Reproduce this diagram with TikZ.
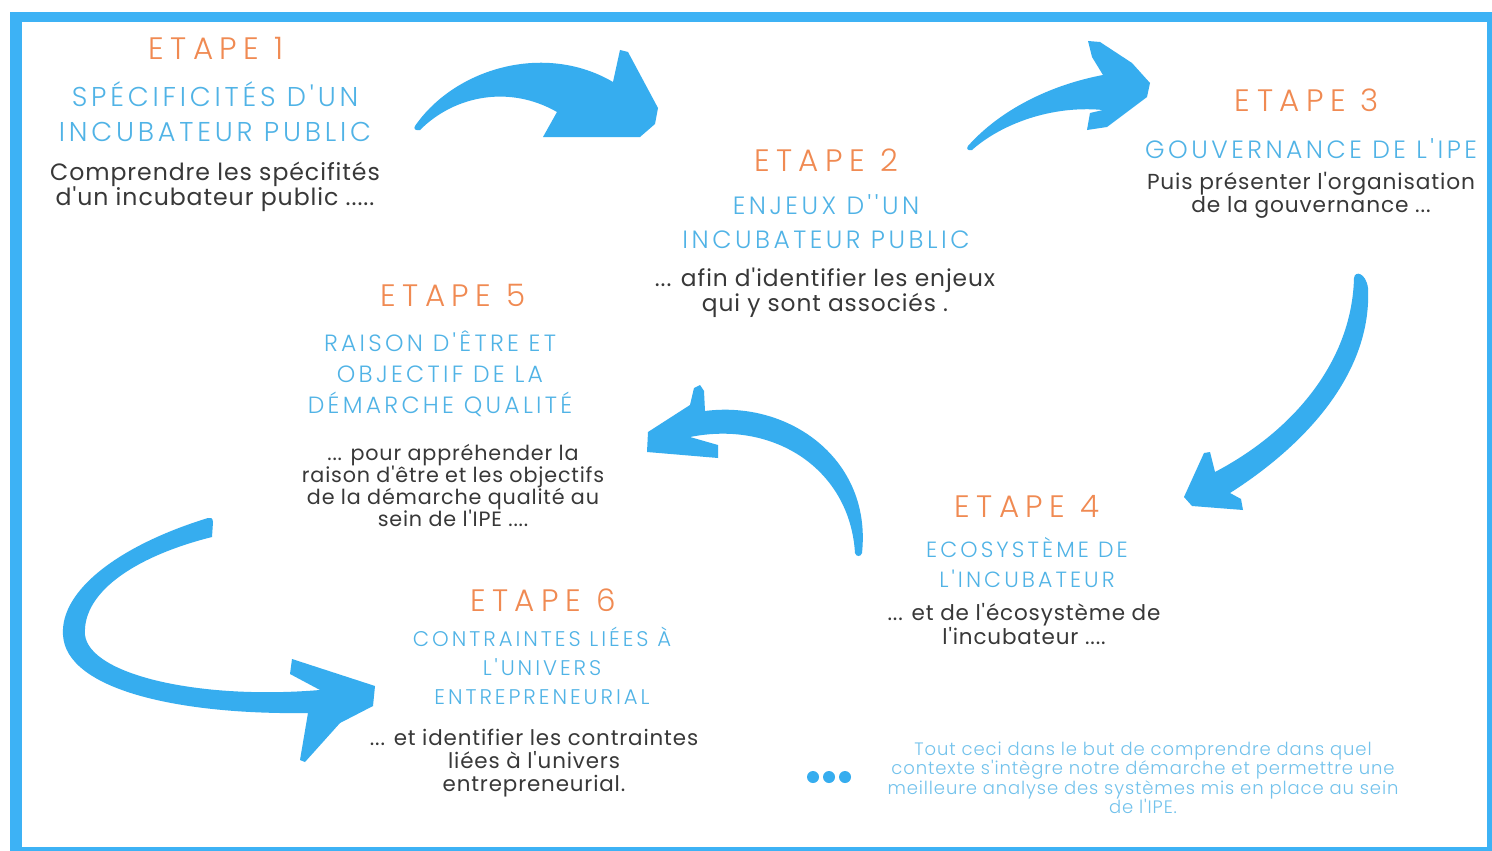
\documentclass[tikz,border=0pt]{standalone}
\usepackage{fontspec}
\setmainfont{Poppins}[Ligatures=TeXOff]
\newfontfamily\bodyf{Poppins}[LetterSpace=4]
\newfontfamily\handf{Poppins Light}[LetterSpace=5]
\newfontfamily\etapef{Poppins Light}[LetterSpace=21]
\newfontfamily\titlef{Poppins Light}[LetterSpace=14]
\definecolor{arrowblue}{HTML}{36ADEF}
\definecolor{frameblue}{HTML}{3DB2F5}
\definecolor{etapeorange}{HTML}{F08A52}
\definecolor{titleblue}{HTML}{50B3E6}
\definecolor{bodygray}{HTML}{383838}
\definecolor{handblue}{HTML}{72C2EC}
\tikzset{
  etape/.style={text=etapeorange, font=\etapef\fontsize{31}{31}\selectfont, inner sep=0pt},
  ttl/.style={text=titleblue, align=center, inner sep=0pt},
  body/.style={text=bodygray, align=center, inner sep=0pt},
  bigarrow/.style={fill=arrowblue, draw=none},
  dot/.style={circle, fill=arrowblue, minimum size=12pt, inner sep=0pt}
}
\begin{document}
\begin{tikzpicture}[x=1pt,y=-1pt]
\useasboundingbox (0,0) rectangle (1492,851);
% frame
\fill[frameblue] (10,12) rectangle (1492,851);
\fill[white] (22,22) rectangle (1487,847);

% arrow 1
\path[bigarrow] (415,126) .. controls (455,68) and (545,42) .. (613,82)
  -- (620,50) -- (628,52) -- (658,108) -- (655,124) -- (640,137) -- (543,137) -- (557,112)
  .. controls (510,85) and (455,95) .. (420,130) .. controls (416,131) and (413,129) .. (415,126) -- cycle;
% arrow 2
\path[bigarrow] (968,146) .. controls (1000,110) and (1050,85) .. (1103,75)
  -- (1092,57) -- (1088,41) -- (1100,42) -- (1132,63) -- (1150,83) -- (1147,97) -- (1107,127) -- (1087,130) -- (1090,113) -- (1103,110)
  .. controls (1050,105) and (1000,125) .. (972,150) .. controls (968,151) and (966,149) .. (968,146) -- cycle;
% arrow 3
\path[bigarrow] (1354,278) .. controls (1352,360) and (1295,430) .. (1215,472)
  -- (1210,452) -- (1204,453) -- (1184,497) -- (1192,506) -- (1243,510) -- (1241,499) -- (1230,493)
  .. controls (1310,442) and (1372,370) .. (1368,288) .. controls (1366,273) and (1355,270) .. (1354,278) -- cycle;
% arrow 4
\path[bigarrow] (862,553) .. controls (872,460) and (790,400) .. (705,411)
  -- (704,391) -- (700,385) -- (694,388) -- (690,405) -- (648,432) -- (647,452) -- (718,458) -- (718,445) -- (690,437)
  .. controls (775,420) and (850,470) .. (855,553) .. controls (856,557) and (861,557) .. (862,553) -- cycle;
% arrow 5
\path[bigarrow] (208,518) .. controls (120,545) and (60,590) .. (63,635)
  .. controls (66,690) and (180,715) .. (308,713)
  -- (300,760) -- (305,762) -- (340,723) -- (373,706) -- (375,686) -- (292,659) -- (290,674) -- (320,690)
  .. controls (200,700) and (90,675) .. (85,635) .. controls (82,590) and (140,555) .. (212,537)
  -- (213,522) .. controls (213,518) and (210,517) .. (208,518) -- cycle;

% step 1
\node[etape] (e1) at (216,48) {ETAPE 1};
\node[ttl, font=\titlef\fontsize{27.2}{35}\selectfont] (t1) at (215,112) {SPÉCIFICITÉS D'UN\\INCUBATEUR PUBLIC};
\node[body, font=\bodyf\fontsize{23.6}{25}\selectfont] (b1) at (215,187) {Comprendre les spécifités\\d'un incubateur public .....};
% step 2
\node[etape] (e2) at (826,160) {ETAPE 2};
\node[ttl, font=\titlef\fontsize{25}{34}\selectfont] (t2) at (826,222) {ENJEUX D''UN\\INCUBATEUR PUBLIC};
\node[body, font=\bodyf\fontsize{23.3}{25}\selectfont] (b2) at (825,293) {... afin d'identifier les enjeux\\qui y sont associés .};
% step 3
\node[etape] (e3) at (1307,100) {ETAPE 3};
\node[ttl, font=\titlef\fontsize{25}{30}\selectfont] (t3) at (1311,149) {GOUVERNANCE DE L'IPE};
\node[body, font=\bodyf\fontsize{21.7}{23}\selectfont] (b3) at (1311,195) {Puis présenter l'organisation\\de la gouvernance ...};
% step 5
\node[etape] (e5) at (453,295) {ETAPE 5};
\node[ttl, font=\titlef\fontsize{23.5}{31}\selectfont] (t5) at (440,374) {RAISON D'ÊTRE ET\\OBJECTIF DE LA\\DÉMARCHE QUALITÉ};
\node[body, font=\bodyf\fontsize{20.7}{22}\selectfont] (b5) at (453,485) {... pour appréhender la\\raison d'être et les objectifs\\de la démarche qualité au\\sein de l'IPE ....};
% step 4
\node[etape] (e4) at (1027,506) {ETAPE 4};
\node[ttl, font=\titlef\fontsize{22}{30}\selectfont] (t4) at (1027,563) {ECOSYSTÈME DE\\L'INCUBATEUR};
\node[body, font=\bodyf\fontsize{21.5}{24}\selectfont] (b4) at (1024,624) {... et de l'écosystème de\\l'incubateur ....};
% step 6
\node[etape] (e6) at (543,600) {ETAPE 6};
\node[ttl, font=\titlef\fontsize{21.2}{29}\selectfont] (t6) at (542,666) {CONTRAINTES LIÉES À\\L'UNIVERS\\ENTREPRENEURIAL};
\node[body, font=\bodyf\fontsize{21.4}{23}\selectfont] (b6) at (534,763) {... et identifier les contraintes\\liées à l'univers\\entrepreneurial.};
% conclusion
\node[dot] (d1) at (813,777) {};
\node[dot] (d2) at (829,777) {};
\node[dot] (d3) at (845,777) {};
\node[text=handblue, align=center, inner sep=0pt, font=\handf\fontsize{18}{19.5}\selectfont] (c) at (1143,778) {Tout ceci dans le but de comprendre dans quel\\contexte s'intègre notre démarche et permettre une\\meilleure analyse des systèmes mis en place au sein\\de l'IPE.};
\end{tikzpicture}
\end{document}
